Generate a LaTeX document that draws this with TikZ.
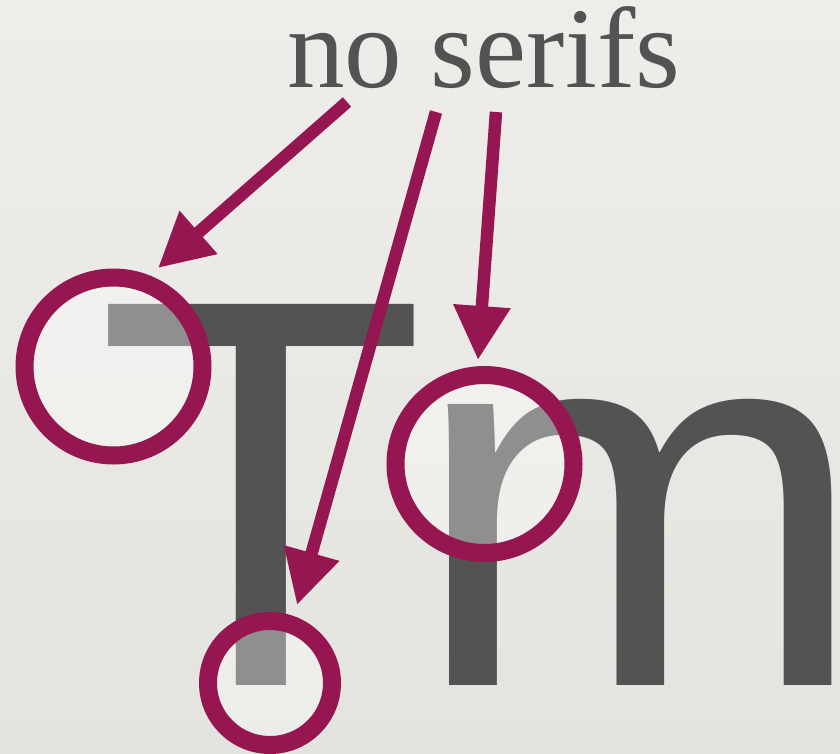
\documentclass[tikz,border=0pt]{standalone}
\usepackage{fontspec}
\setmainfont{Liberation Serif}
\newfontfamily\glyphfont{Liberation Sans}
\usepackage{xcolor}
\usetikzlibrary{arrows.meta, positioning}

\definecolor{inkgray}{HTML}{535353}
\definecolor{berry}{HTML}{961651}
\definecolor{paperTop}{HTML}{EFEDEA}
\definecolor{paperBot}{HTML}{E3E4DF}

\begin{document}
\begin{tikzpicture}[x=1pt, y=-1pt,
    glyph/.style={inner sep=0pt, text=inkgray},
    ring/.style={circle, inner sep=0pt, draw=berry, line width=18pt, fill=white, fill opacity=0.35},
    pointer/.style={draw=berry, line width=12.5pt, -{Triangle[length=54pt, width=54pt]}}]

    % =================================================================
    % 1. PAPER AND POINTS
    % =================================================================
    \shade[top color=paperTop, bottom color=paperBot] (0,0) rectangle (840,754);
    \useasboundingbox (0,0) rectangle (840,754);

    \coordinate (tailA) at (347,102);
    \coordinate (tipA) at (158,268);
    \coordinate (tailB) at (436,112);
    \coordinate (tipB) at (297,605);
    \coordinate (tailC) at (496,112);
    \coordinate (tipC) at (478,360);

    % =================================================================
    % 2. CAPTION AND THE TWO LETTERS
    % =================================================================
    \node[anchor=base west, inner sep=0pt, text=inkgray, text height=80pt, text depth=0pt,
          font=\fontsize{115}{115}\selectfont] (caption) at (287,88) {no serifs};

    \node[glyph, anchor=base west, xscale=0.975,
          font=\glyphfont\fontsize{554}{554}\selectfont] (letterT) at (96,685) {T};
    \node[glyph, anchor=base west, xscale=1.03,
          font=\glyphfont\fontsize{532}{532}\selectfont] (letterM) at (411,685) {\makebox[380pt][l]{m}};

    % =================================================================
    % 3. RINGS AROUND THE MISSING SERIFS
    % =================================================================
    \node[ring, minimum size=178pt] (ringTop) at (113.5,366.5) {};
    \node[ring, minimum size=178pt] (ringStem) at (484.5,464) {};
    \node[ring, minimum size=124pt] (ringFoot) at (270,683) {};

    % =================================================================
    % 4. ARROWS FROM THE CAPTION
    % =================================================================
    \draw[pointer] (tailA) -- (tipA);
    \draw[pointer] (tailB) -- (tipB);
    \draw[pointer] (tailC) -- (tipC);

\end{tikzpicture}
\end{document}
